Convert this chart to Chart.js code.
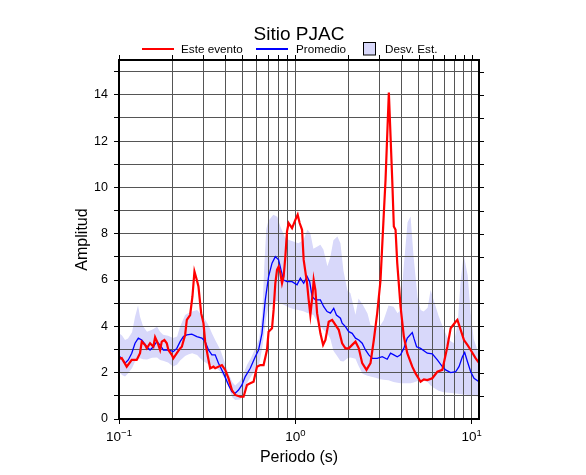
<!DOCTYPE html>
<html>
<head>
<meta charset="utf-8">
<script src="https://cdn.jsdelivr.net/npm/chart.js@4.4.1/dist/chart.umd.min.js"></script>
<style>
  html, body { margin: 0; padding: 0; background: #fff; }
</style>
</head>
<body>
<canvas id="chart" width="586" height="475"></canvas>
<script>
// Este evento (periodo s, amplitud)
const eventoT = [0.1, 0.1036, 0.1106, 0.1181, 0.126, 0.1316, 0.1346, 0.1405, 0.1437, 0.15, 0.1566, 0.1602, 0.1659, 0.171, 0.1748, 0.1809, 0.1866, 0.1906, 0.1992, 0.2034, 0.2127, 0.2221, 0.2271, 0.2371, 0.2424, 0.2531, 0.2609, 0.2678, 0.2763, 0.2822, 0.2923, 0.3013, 0.308, 0.3192, 0.3289, 0.3434, 0.3511, 0.3833, 0.4002, 0.4178, 0.4368, 0.456, 0.487, 0.5085, 0.5317, 0.555, 0.5796, 0.6059, 0.6326, 0.6605, 0.6905, 0.705, 0.7374, 0.7529, 0.7699, 0.7871, 0.8038, 0.8219, 0.8403, 0.8581, 0.8774, 0.897, 0.9162, 0.9578, 1.0, 1.0306, 1.0578, 1.0915, 1.1149, 1.1654, 1.1901, 1.2167, 1.254, 1.2705, 1.299, 1.3283, 1.3868, 1.4368, 1.4808, 1.546, 1.6163, 1.6876, 1.762, 1.8421, 1.9233, 2.0083, 2.1, 2.1927, 2.2894, 2.3933, 2.5316, 2.6681, 2.786, 2.9125, 3.0409, 3.1749, 3.2466, 3.3898, 3.543, 3.618, 3.6997, 3.7825, 3.9496, 4.1237, 4.3121, 4.6036, 4.8064, 5.1311, 5.358, 5.6016, 5.9798, 6.385, 6.8157, 7.2758, 7.5974, 8.1113, 8.2946, 8.6596, 9.04, 9.454, 9.87, 10.537, 11];
const eventoA = [2.6, 2.63, 2.26, 2.55, 2.55, 2.84, 3.34, 3.2, 3.05, 3.27, 3.12, 3.53, 3.27, 2.98, 3.34, 3.41, 3.27, 2.98, 2.77, 2.62, 2.84, 3.05, 3.12, 3.63, 4.28, 4.49, 5.29, 6.37, 6.0, 5.72, 4.57, 4.14, 3.34, 2.69, 2.19, 2.26, 2.19, 2.33, 2.12, 1.76, 1.25, 1.04, 0.96, 0.96, 1.47, 1.54, 1.61, 2.26, 2.33, 2.33, 2.98, 3.77, 3.92, 4.71, 5.86, 6.44, 6.58, 6.3, 5.86, 6.15, 7.0, 8.1, 8.46, 8.24, 8.6, 8.82, 8.46, 8.17, 6.87, 5.86, 5.14, 4.49, 5.43, 6.0, 5.57, 4.57, 3.7, 3.2, 3.41, 4.2, 4.28, 4.06, 3.85, 3.27, 3.05, 3.05, 3.2, 3.34, 3.05, 2.41, 2.12, 2.41, 3.41, 4.57, 6.0, 8.89, 10.33, 14.1, 10.33, 8.31, 8.17, 6.73, 4.85, 3.56, 2.84, 2.26, 1.97, 1.61, 1.71, 1.68, 1.76, 2.04, 2.12, 3.12, 3.92, 4.2, 4.28, 3.85, 3.41, 3.2, 2.98, 2.62, 2.43];

// Promedio
const promedioT = [0.1, 0.1036, 0.1082, 0.1129, 0.1181, 0.1233, 0.1287, 0.1346, 0.1437, 0.15, 0.1566, 0.1637, 0.171, 0.1785, 0.1906, 0.2034, 0.2127, 0.2221, 0.2319, 0.2424, 0.2588, 0.2763, 0.2951, 0.308, 0.3217, 0.3363, 0.3511, 0.3666, 0.3915, 0.4178, 0.4368, 0.456, 0.4762, 0.4979, 0.5199, 0.555, 0.5925, 0.6187, 0.6468, 0.6753, 0.705, 0.7374, 0.7699, 0.8038, 0.8292, 0.8581, 0.897, 0.9578, 1.0225, 1.0676, 1.1149, 1.1654, 1.2057, 1.2441, 1.299, 1.3868, 1.448, 1.5138, 1.5808, 1.6504, 1.71, 1.8018, 1.8421, 1.9233, 2.0083, 2.1, 2.1927, 2.2894, 2.3933, 2.499, 2.6094, 2.7284, 2.9125, 3.1101, 3.3189, 3.4657, 3.618, 3.7825, 3.9496, 4.1237, 4.3121, 4.6036, 4.7013, 4.8697, 5.1311, 5.6016, 5.9798, 6.385, 6.8157, 7.1156, 7.5974, 8.1113, 8.4705, 8.8556, 9.1246, 9.454, 9.87, 10.306, 11];
const promedioA = [2.72, 2.62, 2.41, 2.55, 2.84, 3.27, 3.49, 3.41, 3.12, 2.98, 3.12, 3.34, 3.2, 2.98, 2.98, 2.91, 3.05, 3.34, 3.56, 3.63, 3.66, 3.56, 3.49, 3.34, 2.98, 2.77, 2.77, 2.41, 1.97, 1.47, 1.18, 1.11, 1.25, 1.47, 1.83, 2.19, 2.69, 2.98, 3.7, 5.14, 6.15, 6.73, 7.01, 6.87, 6.44, 6.0, 5.93, 5.93, 5.79, 6.08, 5.86, 6.15, 5.93, 5.29, 5.14, 5.14, 4.85, 4.64, 4.57, 4.78, 4.49, 4.35, 4.14, 3.99, 3.77, 3.7, 3.49, 3.41, 3.27, 2.98, 2.77, 2.62, 2.62, 2.69, 2.58, 2.84, 2.77, 2.69, 2.77, 3.05, 3.49, 3.73, 3.49, 3.12, 3.05, 2.84, 2.81, 2.55, 2.26, 2.12, 2.0, 2.04, 2.26, 2.69, 2.87, 2.48, 2.04, 1.76, 1.61];

// Desv. Est. (banda superior / inferior)
const bandT = [0.1, 0.104, 0.1082, 0.1125, 0.1186, 0.1233, 0.1282, 0.1316, 0.1369, 0.1442, 0.154, 0.1644, 0.171, 0.1778, 0.1898, 0.2026, 0.2136, 0.2221, 0.2371, 0.2466, 0.2599, 0.2773, 0.2885, 0.3, 0.3203, 0.3375, 0.3511, 0.3748, 0.395, 0.4162, 0.4385, 0.456, 0.487, 0.5065, 0.5337, 0.5623, 0.6002, 0.6242, 0.6494, 0.6665, 0.6842, 0.7023, 0.7499, 0.7901, 0.8219, 0.8774, 0.9126, 0.9742, 1.04, 1.1103, 1.1701, 1.2167, 1.2656, 1.3335, 1.3868, 1.4421, 1.5199, 1.5808, 1.6441, 1.7324, 1.8018, 1.8738, 1.9747, 2.0535, 2.1927, 2.2804, 2.403, 2.5654, 2.6681, 2.848, 3.0409, 3.1623, 3.3761, 3.6059, 3.7983, 3.9496, 4.1082, 4.3288, 4.5022, 4.6826, 4.9344, 5.1311, 5.3367, 5.6234, 5.8484, 6.0826, 6.4938, 6.9336, 7.4028, 7.9039, 8.3253, 8.6596, 9.0071, 9.4904, 9.87, 10.265, 10.817, 11];
const bandUpper = [3.7, 3.6, 3.41, 3.48, 3.75, 4.42, 4.9, 4.42, 4.0, 3.77, 3.85, 3.98, 3.77, 3.64, 3.59, 3.5, 3.56, 3.99, 4.49, 4.57, 4.64, 4.71, 4.57, 4.43, 4.08, 3.68, 3.41, 3.0, 2.5, 2.0, 1.6, 1.45, 1.65, 1.95, 2.35, 2.65, 3.15, 3.5, 4.6, 6.6, 8.2, 8.55, 8.82, 8.73, 8.31, 7.81, 7.74, 7.66, 7.59, 7.72, 8.17, 8.02, 7.35, 7.45, 7.52, 7.32, 6.6, 7.01, 7.72, 7.88, 7.59, 6.4, 5.55, 5.43, 4.5, 5.2, 4.95, 4.55, 4.06, 3.99, 4.06, 4.25, 4.9, 4.85, 4.57, 4.71, 6.5, 8.5, 8.74, 7.0, 5.25, 4.71, 4.64, 4.8, 5.57, 5.14, 4.45, 3.88, 3.42, 3.27, 4.1, 6.0, 7.1, 6.2, 4.57, 3.45, 2.95, 2.69];
const bandLower = [2.04, 1.9, 1.83, 1.96, 2.2, 2.48, 2.56, 2.62, 2.58, 2.57, 2.64, 2.65, 2.55, 2.51, 2.44, 2.27, 2.35, 2.53, 2.72, 2.79, 2.84, 2.76, 2.62, 2.5, 2.36, 2.3, 2.26, 2.05, 1.78, 1.42, 0.94, 0.82, 0.84, 1.1, 1.57, 1.86, 2.15, 2.4, 3.1, 3.7, 4.4, 4.8, 5.05, 5.1, 5.0, 4.9, 4.82, 4.75, 4.71, 4.65, 4.58, 4.54, 4.49, 4.2, 3.99, 3.85, 3.69, 3.45, 2.95, 2.7, 2.5, 2.48, 2.62, 2.66, 2.6, 2.3, 1.95, 1.87, 1.83, 1.78, 1.72, 1.7, 1.67, 1.6, 1.56, 1.54, 1.54, 1.54, 1.54, 1.58, 1.64, 1.68, 1.65, 1.6, 1.45, 1.35, 1.22, 1.16, 1.13, 1.11, 1.09, 1.07, 1.06, 1.04, 1.02, 1.0, 0.97, 0.96];

// ejes
const gridPeriods = [0.1, 0.2, 0.3, 0.4, 0.5, 0.6, 0.7, 0.8, 0.9, 1, 2, 3, 4, 5, 6, 7, 8, 9, 10];
const majorPeriods = [0.1, 1, 10];
const majorExps = ['\u22121', '0', '1'];

const FONT = '"Liberation Sans", Arial, Helvetica, sans-serif';
const BAND = 'rgb(216,216,250)';

const pts = (xs, ys) => xs.map((x, i) => ({ x: x, y: ys[i] }));

const decor = {
    id: 'decor',
    afterDraw(chart) {
        const { ctx, chartArea: a, scales: { x, y } } = chart;
        ctx.save();

        // ticks on top and right side of the frame
        ctx.strokeStyle = '#000';
        ctx.lineWidth = 1;
        ctx.beginPath();
        gridPeriods.forEach(v => {
            const px = Math.round(x.getPixelForValue(v)) + 0.5;
            ctx.moveTo(px, a.top);
            ctx.lineTo(px, a.top - 5);
        });
        for (let v = 1; v <= 15; v++) {
            const py = Math.round(y.getPixelForValue(v)) + 0.5;
            ctx.moveTo(a.right, py);
            ctx.lineTo(a.right + 5, py);
        }
        ctx.stroke();

        // frame
        ctx.lineWidth = 2;
        ctx.strokeRect(a.left, a.top, a.right - a.left, a.bottom - a.top);

        ctx.fillStyle = '#000';

        // x tick labels 10^n
        majorPeriods.forEach((v, i) => {
            const px = x.getPixelForValue(v);
            ctx.font = '13.5px ' + FONT;
            const w1 = ctx.measureText('10').width;
            ctx.font = '9.5px ' + FONT;
            const w2 = ctx.measureText(majorExps[i]).width;
            const x0 = px - (w1 + w2) / 2;
            ctx.textAlign = 'left';
            ctx.textBaseline = 'alphabetic';
            ctx.font = '13.5px ' + FONT;
            ctx.fillText('10', x0, 441);
            ctx.font = '9.5px ' + FONT;
            ctx.fillText(majorExps[i], x0 + w1, 436);
        });

        // title
        ctx.textAlign = 'center';
        ctx.font = '19px ' + FONT;
        ctx.fillText('Sitio PJAC', (a.left + a.right) / 2, 40);

        // axis titles
        ctx.font = '16px ' + FONT;
        ctx.fillText('Periodo (s)', (a.left + a.right) / 2, 462);
        ctx.save();
        ctx.translate(87, (a.top + a.bottom) / 2);
        ctx.rotate(-Math.PI / 2);
        ctx.fillText('Amplitud', 0, 0);
        ctx.restore();

        // legend
        ctx.textAlign = 'left';
        ctx.font = '11.7px ' + FONT;
        ctx.lineWidth = 2;
        ctx.strokeStyle = '#ff0000';
        ctx.beginPath(); ctx.moveTo(142, 49); ctx.lineTo(174, 49); ctx.stroke();
        ctx.fillText('Este evento', 181, 53);
        ctx.strokeStyle = '#0000ff';
        ctx.beginPath(); ctx.moveTo(256, 49); ctx.lineTo(288, 49); ctx.stroke();
        ctx.fillText('Promedio', 296, 53);
        ctx.fillStyle = BAND;
        ctx.fillRect(363.5, 42.5, 12, 12.5);
        ctx.strokeStyle = '#000';
        ctx.lineWidth = 1;
        ctx.strokeRect(363.5, 42.5, 12, 12.5);
        ctx.fillStyle = '#000';
        ctx.fillText('Desv. Est.', 385, 53);

        ctx.restore();
    }
};

new Chart(document.getElementById('chart').getContext('2d'), {
    type: 'line',
    data: {
        datasets: [
            {
                label: 'Este evento',
                data: pts(eventoT, eventoA),
                borderColor: '#ff0000',
                borderWidth: 2.2,
                fill: false,
            },
            {
                label: 'Promedio',
                data: pts(promedioT, promedioA),
                borderColor: '#0000ff',
                borderWidth: 1.3,
                fill: false,
            },
            {
                label: 'Desv. Est.',
                data: pts(bandT, bandUpper),
                borderColor: 'rgba(0,0,0,0)',
                borderWidth: 0,
                backgroundColor: BAND,
                fill: '+1',
            },
            {
                label: 'inferior',
                data: pts(bandT, bandLower),
                borderColor: 'rgba(0,0,0,0)',
                borderWidth: 0,
                fill: false,
            },
        ],
    },
    options: {
        responsive: false,
        animation: false,
        devicePixelRatio: 1,
        layout: { padding: { top: 60, right: 107, bottom: 0, left: 0 } },
        elements: { point: { radius: 0 }, line: { tension: 0 } },
        plugins: {
            legend: { display: false },
            title: { display: false },
            tooltip: { enabled: false },
            filler: { drawTime: 'beforeDraw' },
        },
        scales: {
            x: {
                type: 'logarithmic',
                min: 0.1,
                max: 11,
                afterBuildTicks: (s) => { s.ticks = gridPeriods.map(v => ({ value: v })); },
                afterFit: (s) => { s.height = 56; },
                ticks: { display: false },
                grid: {
                    color: '#555',
                    lineWidth: 1,
                    tickLength: 5,
                    tickColor: (c) => (c.tick && majorPeriods.includes(c.tick.value)) ? '#000' : 'rgba(0,0,0,0)',
                },
                border: { display: false },
            },
            y: {
                min: 0,
                max: 15.5,
                afterFit: (s) => { s.width = 119; },
                ticks: {
                    stepSize: 1,
                    includeBounds: false,
                    padding: 6,
                    color: '#000',
                    font: { size: 12.5, family: FONT },
                    callback: (v) => (v % 2 === 0 ? String(v) : ''),
                },
                grid: { color: '#555', lineWidth: 1, tickLength: 5, tickColor: '#000' },
                border: { display: false },
            },
        },
    },
    plugins: [decor],
});
</script>
</body>
</html>
